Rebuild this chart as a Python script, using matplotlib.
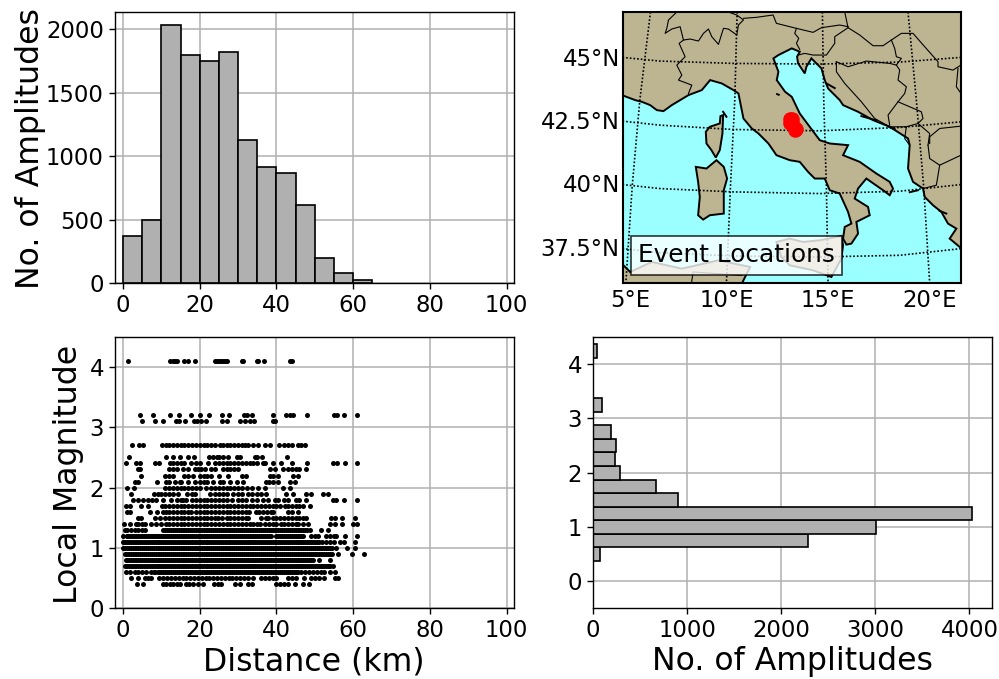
import matplotlib
matplotlib.use('Agg')
import matplotlib.pyplot as plt

W, H = 999.0, 679.0

#%% histogram of distances
dist_edges = [0, 5, 10, 15, 20, 25, 30, 35, 40, 45, 50, 55, 60]
dist_counts = [370, 495, 2035, 1800, 1750, 1820, 1130, 915, 870, 615, 195, 75, 25]

#%% histogram of magnitudes
mag_edges = [0.37, 0.62, 0.87, 1.12, 1.37, 1.62, 1.87, 2.12, 2.37, 2.62, 3.12, 4.12]
mag_counts = [70, 2280, 3007, 4028, 900, 667, 287, 230, 241, 191, 96, 46]

#%% magnitude against distance, one list of distances per magnitude row
rows = {
    4.1: [1.2, 12.2, 13, 13.5, 14, 16, 17, 18.7, 24, 24.5, 25, 25.5, 26, 26.5, 27, 31, 31.3, 34.8, 35.2, 36.8, 43.5, 44],
    3.2: [4.5, 7.8, 12.2, 14.5, 17.8, 20, 22.3, 25.7, 27.7, 31.5, 32.2, 33.6, 39, 42.6, 43.5, 44.2, 48, 55, 55.8, 57.6, 60.9],
    3.1: [4.9, 8.3, 10.5, 13.9, 14.5, 16.1, 18.4, 19.3, 20.4, 21.6, 25.9, 27.1, 30.6, 31.8, 33, 34.2, 39.1, 39.7],
    2.7: [2.4, 4.2, 5.3, 10.2, 11.3, 12, 13, 14, 15, 16, 17, 18, 19, 20, 21, 22, 23, 24, 25.2, 26, 27, 28, 29, 30, 31, 31.7, 32.6, 34, 35.2, 37, 38.3, 40.7, 42, 43, 44, 45.7, 46.5, 47.4],
    2.5: [1.5, 11.3, 13, 14.8, 17, 18.5, 22.4, 23.5, 24.5, 25, 26, 27.4, 29.7, 30.6, 34.3, 35, 36.3, 42.7],
    2.4: [0.7, 3.3, 4.3, 8.3, 9.3, 12.2, 13, 14, 15, 16, 17.8, 19, 20, 22.2, 24, 25, 26, 27, 28, 29, 30, 31, 32, 33, 34, 35, 36.5, 37, 39, 41.3, 44, 48, 54.8, 55.7, 57.8, 61],
    2.3: [3.9, 4.5, 12, 13, 14, 15.7, 17, 18.7, 19.5, 20.4, 21.3, 23, 24, 26, 27, 28, 29, 30, 38.3, 39.6, 41.7, 43, 44, 45, 46, 47.8],
    2.2: [4.8, 11, 12, 12.9, 16, 17, 18.3, 20, 21, 22, 23, 25, 27.4, 30.9, 32, 38.3, 39, 40.4, 44.2, 45.5],
    2.1: [3, 3.9, 8.9, 11.3, 12, 13.5, 14.8, 15.2, 17, 18.7, 20, 21, 22, 23.5, 25.2, 26, 27.8, 29.6, 31.3, 37.4, 38, 39, 40.4, 43.5, 44.8],
    2.0: [1, 2.9, 10.9, 12, 13, 14, 15, 16, 17, 18, 19, 20, 21.7, 23, 24, 25, 26, 27, 28, 29, 30, 30.9, 32.2, 33.5, 35.2, 37.1, 41.7, 43.5],
    1.9: [2.2, 8, 9, 10, 11, 12, 13, 14.3, 16.7, 18, 18.7, 22.6, 24, 25, 26, 27, 28.7, 30, 31, 32.6, 33.5, 35, 36, 37.4, 42.6, 44.3, 47.7, 49.1, 52.2, 53.5],
    1.8: [2.6, 3.9, 5.2, 6.5, 7.5, 8.5, 10.4, 12.6, 14, 15, 15.7, 16.5, 18, 19, 20, 21, 22, 23, 24, 25, 26, 27, 28.5, 30, 31, 32, 33.7, 34.8, 36.5, 37.8, 39.5, 40.4, 42, 43, 45.2, 45.8, 47.8, 54.8, 55.5, 57.6, 60.9],
    1.7: [0.7, 1.7, 4.8, 6.5, 10.2, 11, 12, 13, 14, 15, 16, 17, 18, 19, 20, 21, 22, 23, 24, 25, 26, 27, 28, 29, 30, 31, 32, 33, 34, 35, 36, 37, 38, 39, 40, 40.9, 42.2, 43, 44, 45, 46, 47, 48.7],
    1.6: [1, 1.7, 7, 8.9, 10.3, 11.3, 12, 13, 14, 15, 16, 17, 17.8, 19, 20, 21, 22, 23, 24, 25, 26, 27, 28, 29, 30, 31, 32, 32.9, 34.6, 35.5, 36.5, 37.5, 38.5, 39.1, 43, 44, 45.5],
    1.5: [3.9, 4.8, 8.3, 9.7, 10.9, 12, 13, 14, 15, 16, 17, 18, 19, 20, 21, 22, 23, 24, 24.8, 25.7, 27, 28, 29, 30, 31, 32, 32.6, 36, 37.4, 37.8, 39, 40, 41, 42, 43, 44, 45.2, 46, 47, 47.8, 54.3, 55.2, 57.1, 60.4],
    1.4: [0.3, 1.9, 3.3, 4, 5, 5.7, 7.4, 8.5, 10, 11.3, 12, 13, 14, 15, 16, 17, 18, 19, 20, 21, 22, 23, 24, 25, 26, 27, 28, 29, 30, 31, 32, 33, 34, 34.8, 35.7, 37, 38, 39, 40, 41.3, 42, 43, 44, 45.2, 45.7, 47, 48.3, 53.9, 55.2, 57.2, 60, 60.9],
    1.3: [0.4, 1, 2, 3, 4, 5, 5.7, 10.4, 11, 12, 13, 14, 15, 16, 17, 18, 19, 20, 21, 22, 23, 24, 25, 26, 27, 28, 29, 30, 31, 32, 33, 34, 35, 36, 37, 38, 39, 40, 41, 42, 43, 44, 45, 46, 47, 48, 48.7, 51.5, 53.5],
    1.2: [0, 0.9, 1.5, 2.5, 3.5, 4.5, 5.5, 6.5, 7.5, 8.5, 9.5, 10.5, 11.5, 12.5, 13.5, 14.5, 15.5, 16.5, 17.5, 18.5, 19.5, 20.5, 21.5, 22.5, 23.5, 24.5, 25.5, 26.5, 27.5, 28.5, 29.5, 30.5, 31.5, 32.5, 33.5, 34.5, 35.5, 36.5, 37.5, 38.5, 40, 41, 42, 43, 44, 45, 46, 47, 49, 50, 50.9, 53, 54, 55, 55.4, 57.8, 60.9],
    1.1: [0, 1, 2, 3, 4, 5, 6, 7, 8, 9, 10, 11, 12, 13, 14, 15, 16, 17, 18, 19, 20, 21, 22, 23, 24, 25, 26, 27, 28, 29, 30, 31, 32, 33, 34, 35, 36, 37, 38, 39, 40, 41, 42, 43, 44, 45, 46, 47, 48, 49, 50, 51, 52, 53, 54, 55, 56.5, 57.5, 60.4],
    1.0: [0, 1, 2, 3, 4, 5, 6, 7, 8, 9, 10, 11, 12, 13, 14, 15, 16, 17, 18, 19, 20, 21, 22, 23, 24, 25, 26, 27, 28, 29, 30, 31, 32, 33, 34, 35, 36, 37, 38, 39, 40, 41, 42, 43, 44, 45, 46, 47, 48, 49, 50, 51, 52, 53, 54, 55.6, 58.3, 60.4],
    0.9: [0.5, 1.5, 2.5, 3.5, 4.5, 5.5, 6.5, 7.5, 8.5, 9.5, 10.5, 11.5, 12.5, 13.5, 14.5, 15.5, 16.5, 17.5, 18.5, 19.5, 20.5, 21.5, 22.5, 23.5, 24.5, 25.5, 26.5, 27.5, 28.5, 29.5, 30.5, 31.5, 32.5, 33.5, 34.5, 35.5, 36.5, 37.5, 38.5, 39.5, 40.5, 41.5, 42.5, 43.5, 44.5, 45.5, 46.5, 47.5, 48.5, 49.5, 50.5, 51.5, 52.5, 53.5, 54.5, 56, 59.6, 62.8],
    0.8: [0.8, 1.5, 2.5, 3.5, 4.5, 5.5, 6.5, 7.5, 8.5, 9.5, 10.5, 11.5, 12.5, 13.5, 14.5, 15.5, 16.5, 17.5, 18.5, 19.5, 20.5, 21.5, 22.5, 23.5, 24.5, 25.5, 26.5, 27.5, 28.5, 29.5, 30.5, 31.5, 32.5, 33.5, 34.5, 35.5, 36.5, 37.5, 38.5, 39.5, 40.5, 41.5, 42.5, 43.5, 44.5, 45.5, 46.5, 47.5, 48.5, 49.5, 51, 54],
    0.7: [0.5, 1.5, 2.5, 3.5, 4.5, 5.5, 6.5, 7.5, 8.5, 9.5, 10.5, 11.5, 12.5, 13.5, 14.5, 15.5, 16.5, 17.5, 18.5, 19.5, 20.5, 21.5, 22.5, 23.5, 24.5, 25.5, 26.5, 27.5, 28.5, 29.5, 30.5, 31.5, 32.5, 33.5, 34.5, 35.5, 36.5, 37.5, 38.5, 39.5, 40.5, 41.5, 42.5, 43.5, 44.5, 45.5, 46.5, 47.5, 48.5, 49.5, 50.5, 51.5, 52.5, 53.5, 54.7],
    0.6: [0.7, 1.9, 3, 4, 5, 6, 7.4, 8.3, 9, 10, 11, 12, 13, 14, 15, 16, 17, 18, 19, 20, 21, 22, 23, 24, 25, 26, 27, 28, 29, 30, 31, 32, 33, 34, 35, 36, 37, 38, 39, 40, 41, 42, 43, 44, 45, 46.4, 47.5, 48.5, 49.5, 50.5, 51.5, 52.5, 53.9, 55.2],
    0.5: [2.2, 3.9, 5.7, 6.5, 7.4, 9.4, 10.5, 11.5, 12.5, 13.5, 14.5, 15.5, 16.5, 17.5, 18.5, 19.5, 20.5, 21.5, 22.5, 23.5, 24.5, 25.5, 26.5, 27.5, 28.5, 29.5, 30.5, 31.5, 32.5, 33.9, 36, 37, 38, 39, 40, 43, 44, 45, 47.1, 49.1, 50, 51, 52.4, 55.2, 56],
    0.4: [3.7, 5.2, 10.4, 11.3, 12.3, 13, 14, 14.8, 16.3, 17.3, 18.3, 19.5, 20.8, 23.7, 24.7, 25.6, 29.3, 30.5, 32.5, 33.5, 40, 41, 42, 43, 44.8, 47, 48.5],
}

# more events on the crowded rows, these read as nearly solid bands
rows_dense = {
    1.3: [11.5, 12.5, 13.5, 14.5, 15.5, 16.5, 17.5, 18.5, 19.5, 20.5, 21.5, 22.5, 23.5, 24.5, 25.5, 26.5, 27.5, 28.5, 29.5, 30.5, 31.5, 32.5, 33.5, 34.5, 35.5, 36.5, 37.5, 38.5, 39.5, 40.5, 41.5, 42.5, 43.5, 44.5, 45.5, 46.5, 47.5],
    1.2: [1, 2, 3, 4, 5, 6, 7, 8, 9, 10, 11, 12, 13, 14, 15, 16, 17, 18, 19, 20, 21, 22, 23, 24, 25, 26, 27, 28, 29, 30, 31, 32, 33, 34, 35, 36, 37, 38, 40.5, 41.5, 42.5, 43.5, 44.5, 45.5, 46.5],
    1.1: [0.5, 1.5, 2.5, 3.5, 4.5, 5.5, 6.5, 7.5, 8.5, 9.5, 10.5, 11.5, 12.5, 13.5, 14.5, 15.5, 16.5, 17.5, 18.5, 19.5, 20.5, 21.5, 22.5, 23.5, 24.5, 25.5, 26.5, 27.5, 28.5, 29.5, 30.5, 31.5, 32.5, 33.5, 34.5, 35.5, 36.5, 37.5, 38.5, 39.5, 40.5, 41.5, 42.5, 43.5, 44.5, 45.5, 46.5, 47.5, 48.5, 49.5, 50.5],
    1.0: [0.5, 1.5, 2.5, 3.5, 4.5, 5.5, 6.5, 7.5, 8.5, 9.5, 10.5, 11.5, 12.5, 13.5, 14.5, 15.5, 16.5, 17.5, 18.5, 19.5, 20.5, 21.5, 22.5, 23.5, 24.5, 25.5, 26.5, 27.5, 28.5, 29.5, 30.5, 31.5, 32.5, 33.5, 34.5, 35.5, 36.5, 37.5, 38.5, 39.5, 40.5, 41.5, 42.5, 43.5, 44.5, 45.5, 46.5, 47.5, 48.5, 49.5, 50.5, 51.5, 52.5, 53.5, 54.5],
    0.9: [1, 2, 3, 4, 5, 6, 7, 8, 9, 10, 11, 12, 13, 14, 15, 16, 17, 18, 19, 20, 21, 22, 23, 24, 25, 26, 27, 28, 29, 30, 31, 32, 33, 34, 35, 36, 37, 38, 39, 40, 41, 42, 43, 44, 45, 46, 47, 48, 49, 50, 51, 52, 53, 54],
    0.8: [1, 2, 3, 4, 5, 6, 7, 8, 9, 10, 11, 12, 13, 14, 15, 16, 17, 18, 19, 20, 21, 22, 23, 24, 25, 26, 27, 28, 29, 30, 31, 32, 33, 34, 35, 36, 37, 38, 39, 40, 41, 42, 43, 44, 45, 46, 47, 48, 49],
    0.7: [1, 2, 3, 4, 5, 6, 7, 8, 9, 10, 11, 12, 13, 14, 15, 16, 17, 18, 19, 20, 21, 22, 23, 24, 25, 26, 27, 28, 29, 30, 31, 32, 33, 34, 35, 36, 37, 38, 39, 40, 41, 42, 43, 44, 45, 46, 47, 48, 49, 50, 51, 52, 53, 54],
    0.6: [8, 9.5, 10.5, 11.5, 12.5, 13.5, 14.5, 15.5, 16.5, 17.5, 18.5, 19.5, 20.5, 21.5, 22.5, 23.5, 24.5, 25.5, 26.5, 27.5, 28.5, 29.5, 30.5, 31.5, 32.5, 33.5, 34.5, 35.5, 36.5, 37.5, 38.5, 39.5, 40.5, 41.5, 42.5, 43.5, 44.5, 45.5],
}

#%% map outlines, in map sheet units
land_main_x = [66, 106, 126, 151, 171, 191, 216, 266, 306, 331, 366, 401, 416, 431, 456, 476, 506, 530, 570, 600, 625, 645, 675, 690, 720, 745, 755, 735, 730, 740, 755, 775, 770, 810, 805, 765, 775, 800, 850, 870, 880, 870, 830, 780, 730, 745, 690, 660, 630, 600, 576, 556, 531, 536, 521, 536, 576, 600, 592, 595, 615, 620, 635, 665, 675, 685, 720, 730, 775, 820, 870, 925, 930, 925, 940, 970, 975, 1000, 1025, 1045, 1070, 1050, 1086, 1086, 66]
land_main_y = [285, 300, 305, 315, 330, 333, 315, 285, 270, 240, 250, 270, 280, 355, 385, 400, 430, 465, 480, 485, 515, 535, 535, 570, 580, 635, 670, 680, 715, 733, 730, 700, 665, 645, 620, 595, 565, 535, 570, 585, 565, 545, 520, 485, 465, 435, 430, 420, 380, 340, 290, 275, 240, 215, 175, 165, 145, 155, 170, 190, 220, 200, 175, 205, 240, 265, 300, 315, 335, 360, 380, 415, 435, 505, 545, 565, 590, 615, 635, 670, 685, 715, 745, 34, 34]
corsica_x = [370, 362, 360, 330, 318, 320, 335, 348, 360, 368]
corsica_y = [345, 348, 370, 380, 395, 430, 450, 472, 450, 400]
sardinia_x = [350, 372, 382, 372, 372, 330, 310, 295, 300, 295, 288, 320]
sardinia_y = [480, 500, 535, 570, 640, 645, 658, 645, 590, 545, 500, 505]
sicily_x = [530, 570, 610, 660, 725, 730, 725, 695, 640, 570, 545]
sicily_y = [725, 715, 725, 720, 707, 735, 775, 830, 810, 795, 770]
africa_x = [66, 91, 156, 246, 356, 451, 426, 66]
africa_y = [790, 815, 785, 805, 780, 800, 850, 850]

borders = [
    ([231, 206, 201, 196, 216, 241, 251, 271, 296, 311, 326, 336, 356, 371, 386, 411, 416, 431, 411, 386],
     [36, 60, 85, 100, 87, 80, 120, 117, 123, 100, 87, 110, 133, 85, 87, 105, 75, 60, 45, 36]),
    ([251, 238, 256, 231, 246, 236, 276, 266], [120, 130, 170, 195, 225, 240, 255, 280]),
    ([431, 470, 520, 530, 590, 640, 665, 720, 745], [55, 52, 45, 70, 85, 97, 83, 75, 80]),
    ([735, 745, 780, 820, 850, 875, 905, 940, 975, 1015, 1015, 1060, 1084], [36, 83, 105, 137, 137, 120, 100, 100, 140, 185, 200, 210, 195]),
    ([745, 705, 705, 680, 640, 615, 595], [83, 110, 130, 165, 165, 160, 165]),
    ([590, 585, 597, 590, 600], [85, 100, 115, 130, 148]),
    ([710, 745, 800, 870, 890, 900, 895, 920, 915, 895, 865, 870], [185, 200, 183, 190, 195, 210, 240, 260, 280, 305, 345, 375]),
    ([710, 710, 735, 785, 825, 870], [185, 215, 250, 305, 355, 380]),
    ([875, 885, 890, 905, 890], [120, 145, 170, 175, 195]),
    ([895, 965, 970, 955, 990, 985], [305, 335, 355, 370, 400, 435]),
    ([870, 920, 955], [380, 380, 370]),
    ([920, 915, 930], [380, 415, 435]),
    ([985, 990, 1020, 1084], [435, 475, 495, 465]),
    ([1020, 1010, 970], [495, 555, 565]),
    ([990, 990, 1020, 1084], [430, 410, 385, 378]),
    ([1075, 1070, 1084], [205, 260, 280]),
    ([426, 280, 275], [825, 815, 848]),
]
islands = [
    ([680, 705], [250, 264]), ([785, 830], [348, 361]), ([868, 885], [380, 387]),
    ([370, 380], [335, 350]), ([532, 537], [282, 284]), ([930, 955], [576, 570]),
    ([1020, 1040], [632, 640]),
]

# graticule
parallels_x = [68, 180, 400, 660, 900, 1084]
par_45_y = [172, 183, 190, 192, 186, 172]
par_425_y = [363, 375, 388, 392, 382, 365]
par_40_y = [553, 565, 575, 580, 573, 553]
par_375_y = [745, 757, 767, 770, 765, 745]
mer_y = [36, 300, 560, 848]
mer_5_x = [152, 120, 97, 78]
mer_10_x = [412, 405, 392, 380]
mer_15_x = [668, 672, 680, 685]
mer_20_x = [925, 950, 972, 990]

event_x = [572, 578, 572, 578, 583, 586, 588]
event_y = [358, 358, 368, 368, 380, 390, 388]

lon_ticks = [90, 381, 684, 990]
lon_labels = ['5°E', '10°E', '15°E', '20°E']
lat_ticks = [171, 360, 549, 741]
lat_labels = ['45°N', '42.5°N', '40°N', '37.5°N']

SEA = '#9bffff'
LAND = '#bdb592'
BAR = '#b0b0b0'
TICK = 16.4
LABEL = 22.7


def axes_px(fig, x0, y0, x1, y1):
    return fig.add_axes([x0 / W, 1 - y1 / H, (x1 - x0) / W, (y1 - y0) / H])


def style(ax):
    ax.set_axisbelow(True)
    ax.grid(True, color='#b0b0b0', lw=1.1)
    ax.tick_params(labelsize=TICK, length=4.5, width=1.0, pad=3.5)
    for s in ax.spines.values():
        s.set_linewidth(1.0)


fig = plt.figure(figsize=(W / 100, H / 100), dpi=100)

#%% top left
ax1 = axes_px(fig, 115, 12, 513.5, 283)
ax1.bar(dist_edges, dist_counts, width=5, align='edge', color=BAR, edgecolor='k', lw=1.2)
ax1.set_xlim(-2.1, 101.8)
ax1.set_ylim(0, 2135)
ax1.set_xticks([0, 20, 40, 60, 80, 100])
ax1.set_yticks([0, 500, 1000, 1500, 2000])
ax1.set_ylabel('No. of Amplitudes', fontsize=LABEL)
ax1.yaxis.set_label_coords(-0.172, 0.495)
style(ax1)

#%% top right map
ax2 = axes_px(fig, 622.5, 12, 961, 283)
ax2.set_facecolor(SEA)
for px, py in [(land_main_x, land_main_y), (corsica_x, corsica_y), (sardinia_x, sardinia_y),
               (sicily_x, sicily_y), (africa_x, africa_y)]:
    ax2.fill(px, py, facecolor=LAND, edgecolor='k', lw=1.4, zorder=2)
for bx, by in borders:
    ax2.plot(bx, by, color='k', lw=0.8, zorder=3)
for bx, by in islands:
    ax2.plot(bx, by, color='k', lw=1.4, zorder=3)
for py in [par_45_y, par_425_y, par_40_y, par_375_y]:
    ax2.plot(parallels_x, py, color='k', lw=1.2, ls=(0, (1, 1.2)), zorder=4)
for px in [mer_5_x, mer_10_x, mer_15_x, mer_20_x]:
    ax2.plot(px, mer_y, color='k', lw=1.2, ls=(0, (1, 1.2)), zorder=4)
ax2.scatter(event_x, event_y, s=110, color='red', lw=0, zorder=5)
ax2.set_xlim(68, 1084)
ax2.set_ylim(848, 36)
ax2.set_xticks(lon_ticks)
ax2.set_xticklabels(lon_labels)
ax2.set_yticks(lat_ticks)
ax2.set_yticklabels(lat_labels)
ax2.tick_params(labelsize=TICK, length=0)
ax2.tick_params(axis='x', pad=4)
ax2.tick_params(axis='y', pad=2)
for s in ax2.spines.values():
    s.set_linewidth(1.5)
ax2.text(410, 765, 'Event Locations', fontsize=17.8, ha='center', va='center', zorder=6,
         bbox=dict(boxstyle='square,pad=0.3', facecolor='white', edgecolor='k', alpha=0.8, lw=1.2))

#%% bottom left
ax3 = axes_px(fig, 115, 337, 513.5, 608)
for group in [rows, rows_dense]:
    for mag, dists in group.items():
        ax3.plot(dists, [mag] * len(dists), 'ko', ms=3.6, mew=0, zorder=3)
ax3.set_xlim(-2.1, 101.8)
ax3.set_ylim(0, 4.5)
ax3.set_xticks([0, 20, 40, 60, 80, 100])
ax3.set_yticks([0, 1, 2, 3, 4])
ax3.set_xlabel('Distance (km)', fontsize=LABEL, labelpad=3)
ax3.set_ylabel('Local Magnitude', fontsize=LABEL)
ax3.yaxis.set_label_coords(-0.078, 0.494)
style(ax3)

#%% bottom right
ax4 = axes_px(fig, 593, 337, 992, 608)
ax4.barh(mag_edges, mag_counts, height=0.25, align='edge', color=BAR, edgecolor='k', lw=1.2)
ax4.set_xlim(0, 4240)
ax4.set_ylim(-0.5, 4.5)
ax4.set_xticks([0, 1000, 2000, 3000, 4000])
ax4.set_yticks([0, 1, 2, 3, 4])
ax4.set_xlabel('No. of Amplitudes', fontsize=LABEL, labelpad=3)
style(ax4)

fig.savefig('out.png', dpi=100)
